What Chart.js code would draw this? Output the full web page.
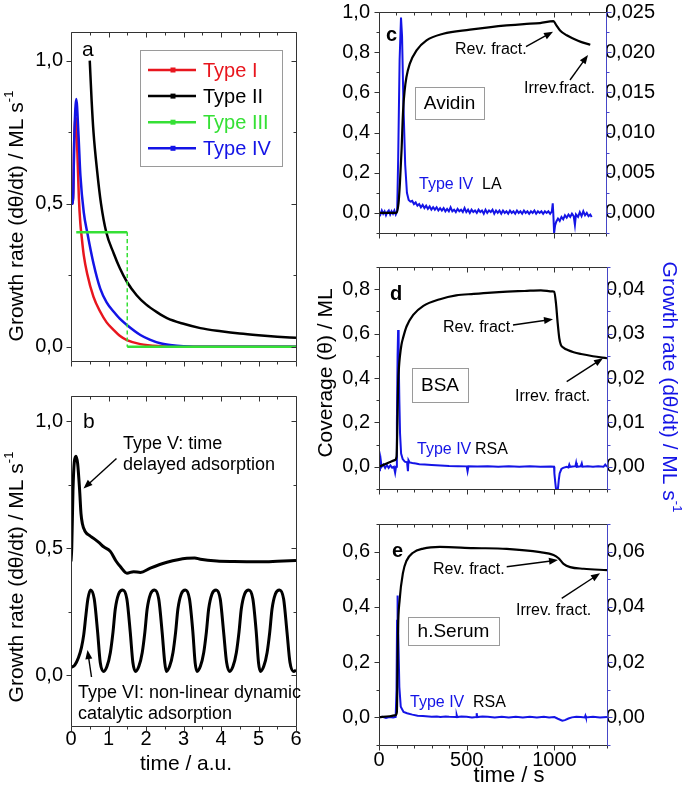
<!DOCTYPE html>
<html><head><meta charset="utf-8">
<script src="https://cdn.jsdelivr.net/npm/chart.js@4/dist/chart.umd.min.js"></script>
<style>
html,body{margin:0;padding:0;background:#fff;}
#wrap{position:relative;width:685px;height:789px;overflow:hidden;background:#fff;}
#wrap canvas{position:absolute;left:0;top:0;}
</style></head><body>
<div id="wrap">
<canvas id="pa" width="685" height="789"></canvas>
<canvas id="pb" width="685" height="789"></canvas>
<canvas id="pc" width="685" height="789"></canvas>
<canvas id="pd" width="685" height="789"></canvas>
<canvas id="pe" width="685" height="789"></canvas>
</div>
<script>
// ---- data ----
// panel a: model growth rates, time in a.u.
const aType1=[[0,0.5],[0.05,0.5],[0.09,0.74],[0.13,0.8],[0.17,0.68],[0.21,0.52],[0.25,0.43],[0.28,0.39],[0.34,0.32],[0.43,0.256],[0.6,0.174],[0.78,0.122],[0.95,0.085],[1.14,0.058],[1.3,0.038],[1.49,0.023],[1.85,0.009],[2.38,0.002],[3.0,0],[6,0]];
const aType2=[[0.5,1.0],[0.55,0.86],[0.6,0.75],[0.7,0.61],[0.8,0.5],[0.94,0.4],[1.14,0.326],[1.3,0.275],[1.49,0.227],[1.75,0.18],[2.0,0.148],[2.3,0.12],[2.56,0.1],[3.0,0.08],[3.45,0.065],[4.0,0.054],[4.5,0.046],[5.0,0.04],[5.5,0.035],[6.0,0.031]];
const aType3Top=[[0.14,0.4],[1.5,0.4]];
const aType3Step=[[1.5,0.4],[1.5,0]];
const aType3Base=[[1.5,0],[6,0]];
const aType4=[[0,0.5],[0.05,0.5],[0.09,0.74],[0.14,0.866],[0.2,0.74],[0.25,0.6],[0.34,0.47],[0.44,0.395],[0.6,0.291],[0.78,0.203],[0.95,0.155],[1.14,0.122],[1.3,0.098],[1.49,0.076],[1.85,0.041],[2.1,0.025],[2.38,0.012],[2.7,0.005],[3.0,0.002],[3.5,0],[6,0]];
// panel b
const bType5=[[0,0.448],[0.02,0.5],[0.053,0.729],[0.088,0.84],[0.133,0.863],[0.177,0.834],[0.23,0.729],[0.266,0.638],[0.302,0.598],[0.382,0.565],[0.5,0.55],[0.604,0.539],[0.75,0.522],[0.87,0.506],[1.048,0.488],[1.2,0.45],[1.315,0.428],[1.493,0.402],[1.67,0.408],[1.85,0.405],[2.115,0.422],[2.56,0.445],[3.09,0.461],[3.3,0.462],[3.45,0.457],[3.89,0.45],[4.34,0.448],[5.05,0.447],[5.5,0.449],[6,0.452]];
const bType6=[[0,0.03],[0.1,0.04],[0.2,0.07],[0.28,0.11],[0.34,0.16],[0.4,0.24],[0.45,0.3],[0.52,0.336],[0.62,0.3],[0.71,0.17],[0.78,0.05],[0.87,0.015],
[0.96,0.035],[1.05,0.09],[1.12,0.17],[1.18,0.26],[1.27,0.32],[1.38,0.336],[1.49,0.3],[1.58,0.17],[1.65,0.05],[1.72,0.015],
[1.81,0.035],[1.9,0.09],[1.97,0.17],[2.03,0.26],[2.12,0.32],[2.23,0.336],[2.34,0.3],[2.43,0.17],[2.5,0.05],[2.54,0.015],
[2.63,0.035],[2.72,0.09],[2.79,0.17],[2.85,0.26],[2.94,0.32],[3.05,0.336],[3.16,0.3],[3.25,0.17],[3.31,0.05],[3.36,0.015],
[3.45,0.035],[3.54,0.09],[3.61,0.17],[3.67,0.26],[3.76,0.32],[3.87,0.336],[3.98,0.3],[4.07,0.17],[4.15,0.05],[4.23,0.015],
[4.32,0.035],[4.41,0.09],[4.48,0.17],[4.54,0.26],[4.63,0.32],[4.74,0.336],[4.85,0.3],[4.94,0.17],[5.0,0.05],[5.05,0.015],
[5.14,0.035],[5.23,0.09],[5.3,0.17],[5.36,0.26],[5.45,0.32],[5.56,0.336],[5.67,0.3],[5.76,0.17],[5.84,0.05],[5.94,0.015],[6.0,0.02]];
// panel c: Avidin, coverage (ML) and growth rate (ML/s) vs time (s)
const cCover=[[0,0],[100,0],[112,0.05],[120,0.15],[129,0.31],[138,0.51],[147,0.61],[157,0.675],[176,0.742],[215,0.809],[272,0.859],[368,0.892],[521,0.912],[640,0.925],[731,0.933],[830,0.94],[922,0.945],[999,0.955],[1015,0.935],[1037,0.908],[1075,0.884],[1114,0.867],[1160,0.85],[1210,0.837]];
const cRate=[[0,0.0001],[8,-0.0002],[16,0.0003],[24,-0.0001],[32,0.0002],[40,-0.0003],[48,0.0001],[56,0.0003],[64,-0.0002],[72,0.0002],[80,-0.0001],[88,0.0003],[96,-0.0002],[104,0.0002],[110,0.007],[118,0.019],[126,0.0243],[132,0.022],[140,0.0135],[150,0.006],[160,0.0025],[170,0.0016],[180,0.0014],[190,0.0015],[200,0.0011],[210,0.0013],[220,0.0009],[230,0.0011],[240,0.0007],[250,0.001],[260,0.0006],[270,0.0009],[280,0.0005],[290,0.0008],[300,0.0004],[310,0.0007],[320,0.0004],[330,0.0007],[340,0.0003],[350,0.0006],[360,0.0003],[370,0.0006],[380,0.0002],[390,0.0005],[400,0.0002],[410,0.0007],[420,0.0002],[430,0.0004],[440,0.0001],[450,0.0005],[460,0.0002],[470,0.0004],[480,0.0001],[490,0.0006],[500,0.0001],[510,0.0004],[520,0],[530,0.0004],[540,0.0001],[550,0.0003],[560,0],[570,0.0004],[580,0.0001],[590,0.0003],[600,-0.0001],[610,0.0004],[620,0],[630,0.0003],[640,0.0001],[650,0.0004],[660,-0.0001],[670,0.0003],[680,0],[690,0.0003],[700,-0.0001],[710,0.0003],[720,0],[730,0.0002],[740,-0.0001],[750,0.0003],[760,0],[770,0.0002],[780,-0.0001],[790,0.0003],[800,0],[810,0.0002],[820,-0.0001],[830,0.0003],[840,0],[850,0.0002],[860,-0.0001],[870,0.0002],[880,0],[890,0.0003],[900,-0.0001],[910,0.0002],[920,0],[930,0.0002],[940,-0.0001],[950,0.0002],[960,0],[970,0.0002],[980,-0.0001],[990,0.0002],[995,0.0012],[998,0],[1003,-0.0025],[1008,-0.0016],[1015,-0.0011],[1025,-0.0007],[1035,-0.001],[1045,-0.0005],[1055,-0.0008],[1065,-0.0003],[1075,-0.0006],[1085,-0.0002],[1095,-0.0005],[1105,-0.0001],[1115,-0.0004],[1122,-0.0015],[1128,-0.0002],[1140,-0.0005],[1150,0.0001],[1160,-0.0004],[1170,0.0002],[1180,-0.0003],[1190,0],[1200,-0.0004],[1210,-0.0002],[1218,-0.0005]];
// panel d: BSA
const dCover=[[0,0],[30,0.01],[60,0.02],[90,0.03],[100,0.045],[105,0.2],[109,0.376],[114,0.45],[119,0.496],[128,0.55],[138,0.583],[157,0.632],[195,0.684],[253,0.725],[348,0.755],[440,0.772],[540,0.779],[640,0.785],[731,0.789],[830,0.792],[923,0.795],[990,0.79],[999,0.789],[1009,0.737],[1018,0.654],[1028,0.579],[1037,0.549],[1055,0.535],[1076,0.526],[1110,0.516],[1152,0.508],[1220,0.498],[1300,0.489]];
const dRate=[[0,0.001],[5,-0.001],[10,0.0015],[15,0],[25,0.0005],[35,-0.00025],[45,0.0004],[55,-0.00025],[65,0.0003],[75,-0.0002],[85,0],[92,-0.00135],[97,0],[102,0.01],[106,0.025],[109,0.0308],[112,0.025],[116,0.015],[120,0.0075],[126,0.003],[135,0.00175],[147,0.00115],[160,0.001],[165,-0.001],[168,0.0015],[175,0.001],[190,0.00085],[210,0.00075],[230,0.0006],[260,0.0005],[300,0.0004],[350,0.0003],[400,0.0002],[450,0.00015],[500,0.0001],[505,-0.001],[510,0.0001],[560,0.00005],[620,0.0001],[680,0],[740,0.0001],[800,0],[860,0.0001],[920,0],[980,0.00005],[998,0],[1000,-0.0015],[1005,-0.0035],[1010,-0.00525],[1020,-0.005],[1025,-0.003],[1030,-0.0015],[1040,-0.0005],[1050,-0.00025],[1070,0],[1080,-0.00015],[1085,0.0005],[1090,0],[1120,0.00015],[1124,0.0009],[1128,0],[1150,0.0001],[1156,0.00075],[1160,0],[1190,0.0001],[1220,0],[1250,0.0001],[1280,0],[1290,0.0005],[1300,0]];
// panel e: human serum
const eCover=[[0,0],[60,0.004],[95,0.008],[102,0.02],[105,0.15],[108,0.305],[118,0.427],[137,0.524],[156,0.566],[194,0.596],[252,0.611],[347,0.617],[537,0.613],[728,0.61],[919,0.598],[995,0.588],[1024,0.576],[1052,0.556],[1090,0.544],[1167,0.538],[1300,0.533]];
const eRate=[[0,0],[20,0.0002],[40,-0.0002],[60,0.0001],[80,0],[95,0.0002],[100,0.01],[103,0.035],[106,0.0441],[110,0.03],[116,0.011],[124,0.0039],[140,0.002],[160,0.0015],[190,0.001],[220,0.0006],[250,0.0005],[300,0.0002],[330,0.0003],[350,0.0001],[380,0.0003],[400,0.0002],[440,0.0001],[443,0.0008],[446,0.0001],[470,0.0003],[500,0.0002],[530,0],[554,0.0001],[557,0.0015],[560,0.0001],[590,0.0003],[620,0.0002],[660,0],[700,0.0002],[740,0],[780,0.0002],[820,0],[860,0.0002],[900,0],[940,0.0002],[970,0],[1000,0.0001],[1020,-0.0005],[1045,-0.0012],[1060,-0.001],[1080,-0.0004],[1100,0],[1125,0.0002],[1150,0.0001],[1174,0],[1177,0.0006],[1180,0],[1220,0.0002],[1260,0],[1300,0.0001]];

// tick labels
const abXTicks=[0,1,2,3,4,5,6];
const abYTicks=[0,0.5,1.0];
const cdeXTicks=[0,500,1000];
const cYTicks=[0,0.2,0.4,0.6,0.8,1.0];
const cRTicks=[0,0.005,0.01,0.015,0.02,0.025];
const dYTicks=[0,0.2,0.4,0.6,0.8];
const dRTicks=[0,0.01,0.02,0.03,0.04];
const eYTicks=[0,0.2,0.4,0.6];
const eRTicks=[0,0.02,0.04,0.06];

// ---- styling / layout ----
const FONT="'Liberation Sans', Arial, Helvetica, sans-serif";
const RED='#e8161e', GREEN='#35e035', BLUE='#1414e6', AXBLUE='#4646c8';
const W=685, H=789, XH=40, YW=50, RW=70;

const pts=a=>a.map(p=>({x:p[0],y:p[1]}));
const comma=d=>v=>v.toFixed(d).replace('.',',');
const px=v=>Math.round(v)+0.5;

function line(data,color,width,extra){
  return Object.assign({data:pts(data),borderColor:color,borderWidth:width,pointRadius:0,fill:false,clip:0,cubicInterpolationMode:'monotone'},extra||{});
}
function rateLine(data){
  return line(data,BLUE,2,{yAxisID:'y2',cubicInterpolationMode:'default',tension:0});
}

function marks(sc,step,fn){
  const major=sc.ticks.map(t=>t.value);
  const n0=Math.ceil(sc.min/step-1e-6), n1=Math.floor(sc.max/step+1e-6);
  for(let i=n0;i<=n1;i++){
    const v=i*step;
    const isMaj=major.some(m=>Math.abs(m-v)<step*1e-3);
    fn(px(sc.getPixelForValue(v)),isMaj?5:3);
  }
}

function txt(ctx,s,x,y,size,color,o){
  o=o||{};
  ctx.save();
  ctx.font=(o.bold?'bold ':'')+size+'px '+FONT;
  ctx.fillStyle=color;ctx.textAlign=o.align||'left';ctx.textBaseline=o.base||'alphabetic';
  ctx.fillText(s,x,y);
  ctx.restore();
}

// rotated text with optional superscript parts, centred on x,y
function rich(ctx,x,y,rot,parts,size,color){
  ctx.save();ctx.translate(x,y);ctx.rotate(rot);
  ctx.fillStyle=color;ctx.textBaseline='middle';ctx.textAlign='left';
  const f=p=>(p[1]?Math.round(size*0.62):size)+'px '+FONT;
  let w=0;parts.forEach(p=>{ctx.font=f(p);w+=ctx.measureText(p[0]).width;});
  let cx=-w/2;
  parts.forEach(p=>{ctx.font=f(p);ctx.fillText(p[0],cx,p[1]?-size*0.36:0);cx+=ctx.measureText(p[0]).width;});
  ctx.restore();
}

function arrow(ctx,x1,y1,x2,y2){
  const ang=Math.atan2(y2-y1,x2-x1), L=9, hw=3.5;
  ctx.save();ctx.strokeStyle='#000';ctx.fillStyle='#000';ctx.lineWidth=1.4;
  ctx.beginPath();ctx.moveTo(x1,y1);ctx.lineTo(x2-Math.cos(ang)*L*0.8,y2-Math.sin(ang)*L*0.8);ctx.stroke();
  ctx.beginPath();ctx.moveTo(x2,y2);
  ctx.lineTo(x2-Math.cos(ang)*L+Math.sin(ang)*hw,y2-Math.sin(ang)*L-Math.cos(ang)*hw);
  ctx.lineTo(x2-Math.cos(ang)*L-Math.sin(ang)*hw,y2-Math.sin(ang)*L+Math.cos(ang)*hw);
  ctx.closePath();ctx.fill();
  ctx.restore();
}

function labelBox(ctx,s,x1,y1,x2,y2){
  ctx.save();ctx.strokeStyle='#9a9a9a';ctx.lineWidth=1;
  ctx.strokeRect(px(x1),px(y1),Math.round(x2-x1),Math.round(y2-y1));
  ctx.restore();
  txt(ctx,s,(x1+x2)/2,(y1+y2)/2+1,19,'#000',{align:'center',base:'middle'});
}

function panel(id,o){
  const [l,t,r,b]=o.box;
  const tickFont={family:FONT,size:20};
  const scales={
    x:{type:'linear',position:'bottom',min:o.x[0],max:o.x[1],
      afterBuildTicks:s=>{s.ticks=o.xTicks.map(v=>({value:v}));},
      afterFit:s=>{s.height=XH;s.paddingLeft=0;s.paddingRight=0;},
      grid:{display:false,drawTicks:false},border:{display:false},
      ticks:{display:!!o.xLabels,font:tickFont,color:'#000',padding:o.xPad||3,maxRotation:0,autoSkip:false,callback:v=>String(v)}},
    y:{type:'linear',position:'left',min:o.y[0],max:o.y[1],
      afterBuildTicks:s=>{s.ticks=o.yTicks.map(v=>({value:v}));},
      afterFit:s=>{s.width=YW;s.paddingTop=0;s.paddingBottom=0;},
      grid:{display:false,drawTicks:false},border:{display:false},
      ticks:{font:tickFont,color:'#000',padding:o.yPad||8,autoSkip:false,callback:comma(o.yDec)}}
  };
  if(o.r){
    scales.y2={type:'linear',position:'right',min:o.r[0],max:o.r[1],
      afterBuildTicks:s=>{s.ticks=o.rTicks.map(v=>({value:v}));},
      afterFit:s=>{s.width=RW;s.paddingTop=0;s.paddingBottom=0;},
      grid:{display:false,drawTicks:false},border:{display:false},
      ticks:{font:tickFont,color:'#000',padding:-1,autoSkip:false,callback:comma(o.rDec)}};
  }
  const frame={id:'frame',afterDraw(chart){
    const {ctx,chartArea:a,scales:s}=chart;
    const L=px(a.left),R=px(a.right),T=px(a.top),B=px(a.bottom);
    ctx.save();ctx.lineWidth=1;ctx.strokeStyle='#333';
    ctx.beginPath();
    ctx.moveTo(R,T);ctx.lineTo(L,T);ctx.lineTo(L,B);ctx.lineTo(R,B);
    if(!s.y2)ctx.lineTo(R,T);
    marks(s.x,o.xMinor,(p,n)=>{ctx.moveTo(p,B);ctx.lineTo(p,B+n);ctx.moveTo(p,T);ctx.lineTo(p,T+n);});
    marks(s.y,o.yMinor,(p,n)=>{ctx.moveTo(L,p);ctx.lineTo(L-n,p);if(!s.y2){ctx.moveTo(R,p);ctx.lineTo(R-n,p);}});
    ctx.stroke();
    if(s.y2){
      ctx.strokeStyle=AXBLUE;ctx.beginPath();ctx.moveTo(R,T);ctx.lineTo(R,B);
      marks(s.y2,o.rMinor,(p,n)=>{ctx.moveTo(R,p);ctx.lineTo(R+n,p);});
      ctx.stroke();
    }
    ctx.restore();
    o.notes(ctx,chart);
  }};
  return new Chart(document.getElementById(id),{
    type:'line',
    data:{datasets:o.sets},
    options:{responsive:false,animation:false,devicePixelRatio:1,events:[],
      layout:{autoPadding:false,padding:{left:l-YW,top:t,right:W-r-(o.r?RW:0),bottom:H-b-XH}},
      scales,
      plugins:{legend:{display:false},tooltip:{enabled:false}}},
    plugins:[frame]
  });
}

const growthTitle=[['Growth rate (d\u03b8/dt) / ML s'],['-1',true]];

// a
panel('pa',{box:[71,32,296,361],x:[0,6],xTicks:abXTicks,xMinor:0.5,y:[-0.05,1.1],yTicks:abYTicks,yDec:1,yMinor:0.25,
  sets:[
    line(aType3Top,GREEN,2.5),
    line(aType3Step,GREEN,1.5,{borderDash:[4,3]}),
    line(aType3Base,GREEN,2.5),
    line(aType4,BLUE,2.5),
    line(aType2,'#000',2.5),
    line(aType1,RED,2.5)
  ],
  notes:(ctx)=>{
    rich(ctx,17,216,-Math.PI/2,growthTitle,21,'#000');
    txt(ctx,'a',82,56,21,'#000');
    ctx.save();ctx.strokeStyle='#9a9a9a';ctx.lineWidth=1;ctx.strokeRect(140.5,50.5,142,116);ctx.restore();
    [['Type I',RED],['Type II','#000'],['Type III',GREEN],['Type IV',BLUE]].forEach((e,i)=>{
      const y=70+i*26.1;
      ctx.save();ctx.strokeStyle=e[1];ctx.fillStyle=e[1];ctx.lineWidth=2.5;
      ctx.beginPath();ctx.moveTo(148,y);ctx.lineTo(196,y);ctx.stroke();
      ctx.fillRect(170.5,y-2.5,5,5);ctx.restore();
      txt(ctx,e[0],203,y+7,20,e[1]);
    });
  }});

// b
panel('pb',{box:[71,396,296,726],x:[0,6],xTicks:abXTicks,xLabels:true,xPad:1,xMinor:0.5,y:[-0.2,1.1],yTicks:abYTicks,yDec:1,yMinor:0.25,
  sets:[line(bType5,'#000',3),line(bType6,'#000',3)],
  notes:(ctx)=>{
    rich(ctx,17,577,-Math.PI/2,growthTitle,21,'#000');
    txt(ctx,'b',83,428,21,'#000');
    txt(ctx,'Type V: time',123,449,18,'#000');
    txt(ctx,'delayed adsorption',123,470,18,'#000');
    arrow(ctx,116.5,458.5,83.5,488.5);
    txt(ctx,'Type VI: non-linear dynamic',78,698,18,'#000');
    txt(ctx,'catalytic adsorption',78,719,18,'#000');
    arrow(ctx,91.5,677,87.5,650);
    txt(ctx,'time / a.u.',186,770,21,'#000',{align:'center'});
  }});

// c
panel('pc',{box:[379,12,606,233],x:[0,1300],xTicks:cdeXTicks,xMinor:100,y:[-0.1,1.0],yTicks:cYTicks,yDec:1,yMinor:0.1,yPad:9,
  r:[-0.0025,0.025],rTicks:cRTicks,rDec:3,rMinor:0.0025,
  sets:[line(cCover,'#000',2.2),rateLine(cRate)],
  notes:(ctx)=>{
    txt(ctx,'c',386,41,20,'#000',{bold:true});
    txt(ctx,'Rev. fract.',455,54,16,'#000');
    arrow(ctx,526,46.7,553,31.7);
    txt(ctx,'Irrev.fract.',524,93,16,'#000');
    arrow(ctx,570,80,588,55);
    labelBox(ctx,'Avidin',415,87,484,119);
    txt(ctx,'Type IV',419,189,16,BLUE);
    txt(ctx,'LA',482,189,16,'#000');
  }});

// d
panel('pd',{box:[379,267,607,489],x:[0,1300],xTicks:cdeXTicks,xMinor:100,y:[-0.1,0.9],yTicks:dYTicks,yDec:1,yMinor:0.1,yPad:9,
  r:[-0.005,0.045],rTicks:dRTicks,rDec:2,rMinor:0.005,
  sets:[line(dCover,'#000',2.2),rateLine(dRate)],
  notes:(ctx)=>{
    txt(ctx,'d',390,300,20,'#000',{bold:true});
    txt(ctx,'Rev. fract.',443,332,16,'#000');
    arrow(ctx,513,325,553,319.3);
    txt(ctx,'Irrev. fract.',515,401,16,'#000');
    arrow(ctx,566.7,381.7,603,358.3);
    labelBox(ctx,'BSA',412,368,468,402);
    txt(ctx,'Type IV',417,454,16,BLUE);
    txt(ctx,'RSA',475,454,16,'#000');
    rich(ctx,326,373,-Math.PI/2,[['Coverage (\u03b8) / ML']],21,'#000');
    rich(ctx,669,387,Math.PI/2,growthTitle,21,BLUE);
  }});

// e
panel('pe',{box:[379,524,607,745],x:[0,1300],xTicks:cdeXTicks,xLabels:true,xMinor:100,y:[-0.1,0.7],yTicks:eYTicks,yDec:1,yMinor:0.1,yPad:9,
  r:[-0.01,0.07],rTicks:eRTicks,rDec:2,rMinor:0.01,
  sets:[line(eCover,'#000',2.2),rateLine(eRate)],
  notes:(ctx)=>{
    txt(ctx,'e',392,557,20,'#000',{bold:true});
    txt(ctx,'Rev. fract.',433,574,16,'#000');
    arrow(ctx,506.7,566.7,558,560);
    txt(ctx,'Irrev. fract.',516,615,16,'#000');
    arrow(ctx,561.7,598.3,600,573.3);
    labelBox(ctx,'h.Serum',408,617,499,645);
    txt(ctx,'Type IV',410,707,16,BLUE);
    txt(ctx,'RSA',473,707,16,'#000');
    txt(ctx,'time / s',509,782,22,'#000',{align:'center'});
  }});
</script>
</body></html>
